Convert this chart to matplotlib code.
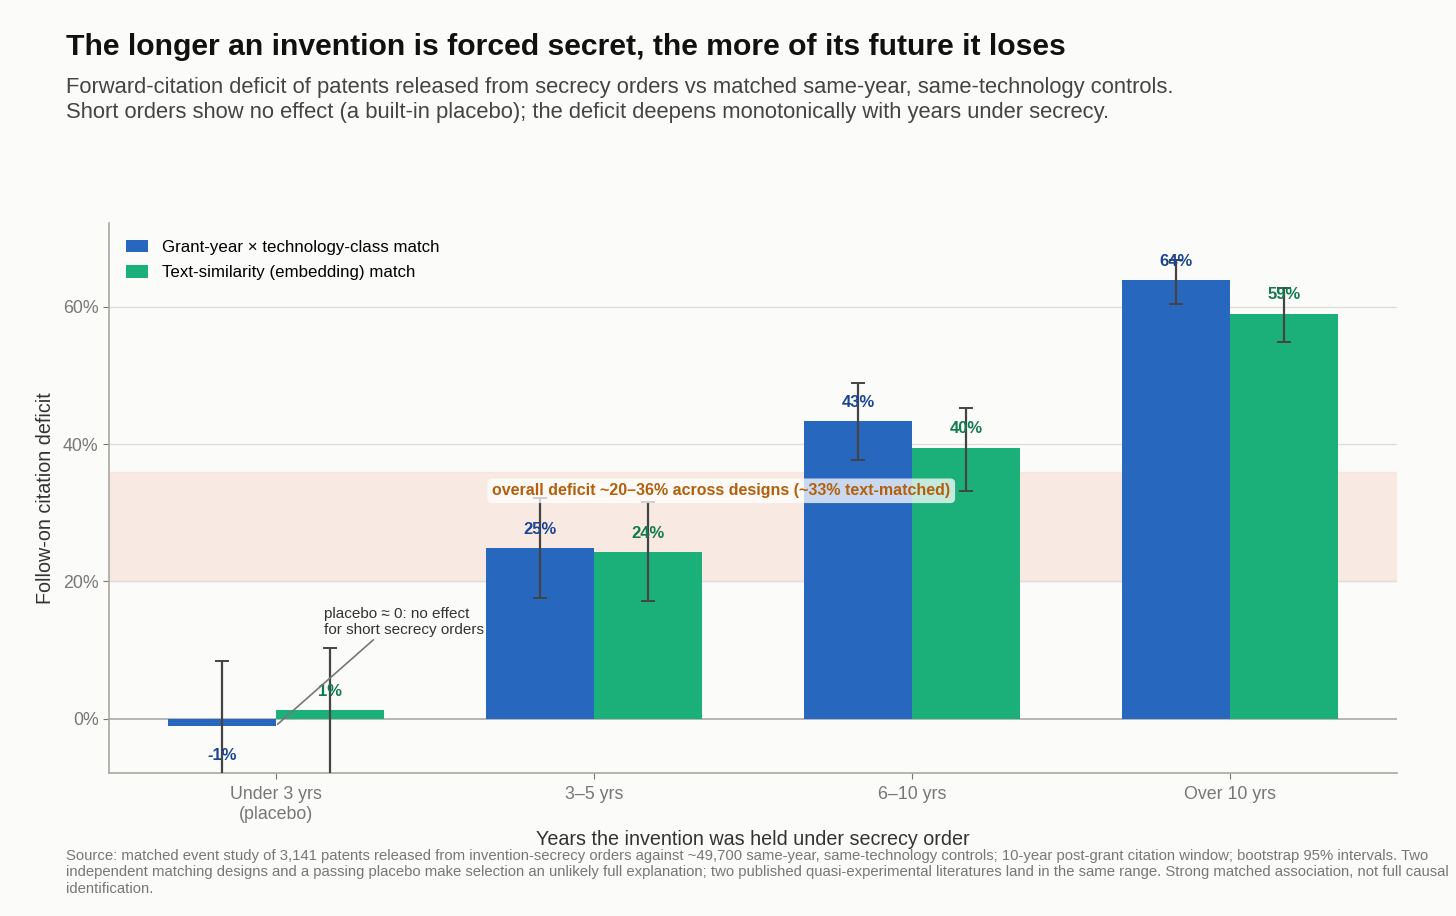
import numpy as np
import matplotlib
matplotlib.use("Agg")
import matplotlib.pyplot as plt

plt.rcParams['font.family'] = ['Liberation Sans', 'DejaVu Sans']

# data
categories = ["Under 3 yrs\n(placebo)", "3–5 yrs", "6–10 yrs", "Over 10 yrs"]
grant_match = [-1.0, 24.8, 43.4, 63.9]
grant_lo = [-10.5, 17.6, 37.7, 60.4]
grant_hi = [8.4, 32.2, 48.9, 66.8]
text_match = [1.3, 24.3, 39.5, 59.0]
text_lo = [-9.0, 17.2, 33.1, 54.8]
text_hi = [10.3, 31.5, 45.3, 62.8]
band_lo, band_hi = 20, 36

bg = '#fbfbf9'
blue = '#2767be'
green = '#1bb07a'
blue_dark = '#1a4592'
green_dark = '#137a4e'

fig = plt.figure(figsize=(14.56, 9.16), dpi=100, facecolor=bg)
ax = fig.add_axes([0.0749, 0.1561, 0.8846, 0.6005])
ax.set_facecolor(bg)

x = np.arange(len(categories))
w = 0.34

ax.axhspan(band_lo, band_hi, color='#f6d9cf', alpha=0.5, zorder=0)
for v in [20, 40, 60]:
    ax.axhline(v, color='#dddddb', lw=1, zorder=0.5)
ax.axhline(0, color='#aaaaaa', lw=1.2, zorder=1)

ax.bar(x - w/2, grant_match, w, color=blue, label='Grant-year × technology-class match', zorder=2)
ax.bar(x + w/2, text_match, w, color=green, label='Text-similarity (embedding) match', zorder=2)

g = np.array(grant_match); t = np.array(text_match)
ax.errorbar(x - w/2, g, yerr=[g - np.array(grant_lo), np.array(grant_hi) - g],
            fmt='none', ecolor='#444444', elinewidth=1.6, capsize=5, capthick=1.4, zorder=4)
ax.errorbar(x + w/2, t, yerr=[t - np.array(text_lo), np.array(text_hi) - t],
            fmt='none', ecolor='#444444', elinewidth=1.6, capsize=5, capthick=1.4, zorder=4)

for xi, v in zip(x - w/2, grant_match):
    off = 8 if v >= 0 else -16
    ax.annotate(f"{v:.0f}%", (xi, v), xytext=(0, off), textcoords='offset points',
                ha='center', va='bottom' if v >= 0 else 'top', fontsize=12,
                fontweight='bold', color=blue_dark, zorder=5)
for xi, v in zip(x + w/2, text_match):
    ax.annotate(f"{v:.0f}%", (xi, v), xytext=(0, 8), textcoords='offset points',
                ha='center', va='bottom', fontsize=12,
                fontweight='bold', color=green_dark, zorder=5)

ax.text(1.4, 33.2, "overall deficit ~20–36% across designs (~33% text-matched)",
        ha='center', va='center', fontsize=11.5, fontweight='bold', color='#b35f0c',
        bbox=dict(boxstyle='round,pad=0.3', fc='white', ec='none', alpha=0.75), zorder=6)

ax.annotate("placebo ≈ 0: no effect\nfor short secrecy orders", xy=(0.005, -0.8),
            xytext=(0.15, 11.9), fontsize=11, color='#333333', ha='left', va='bottom',
            arrowprops=dict(arrowstyle='-', color='#777777', lw=1.2, shrinkA=0, shrinkB=0,
                            relpos=(0.33, 0)), zorder=6)

ax.set_xlim(-0.525, 3.525)
ax.set_ylim(-7.9, 72.2)
ax.set_yticks([0, 20, 40, 60])
ax.set_yticklabels(["0%", "20%", "40%", "60%"])
ax.set_xticks(x)
ax.set_xticklabels(categories)
ax.tick_params(colors='#777777', labelsize=12.8, length=4)
ax.tick_params(axis='x', pad=5.5)
for s in ['top', 'right']:
    ax.spines[s].set_visible(False)
for s in ['left', 'bottom']:
    ax.spines[s].set_color('#aaa9a0')
    ax.spines[s].set_linewidth(1.2)

ax.set_ylabel("Follow-on citation deficit", fontsize=14.2, color='#333333', labelpad=6)
ax.set_xlabel("Years the invention was held under secrecy order", fontsize=14.2,
              color='#333333')
ax.xaxis.set_label_coords(0.5, -0.104)

leg = ax.legend(loc='upper left', frameon=False, fontsize=12.2, handlelength=1.3,
                handleheight=0.75, handletextpad=0.85, borderaxespad=0.4,
                labelspacing=0.6, borderpad=0.6)

fig.text(0.0453, 0.949, "The longer an invention is forced secret, the more of its future it loses",
         fontsize=21.7, fontweight='bold', color='#111111', va='center')
fig.text(0.0453, 0.891, "Forward-citation deficit of patents released from secrecy orders vs matched same-year, same-technology controls.\n"
         "Short orders show no effect (a built-in placebo); the deficit deepens monotonically with years under secrecy.",
         fontsize=15.8, color='#444444', va='center', linespacing=1.25)
fig.text(0.0453, 0.0475,
         "Source: matched event study of 3,141 patents released from invention-secrecy orders against ~49,700 same-year, same-technology controls; 10-year post-grant citation window; bootstrap 95% intervals. Two\n"
         "independent matching designs and a passing placebo make selection an unlikely full explanation; two published quasi-experimental literatures land in the same range. Strong matched association, not full causal\n"
         "identification.",
         fontsize=10.7, color='#777777', va='center', linespacing=1.22)

fig.savefig("out.png", dpi=100, facecolor=bg)
